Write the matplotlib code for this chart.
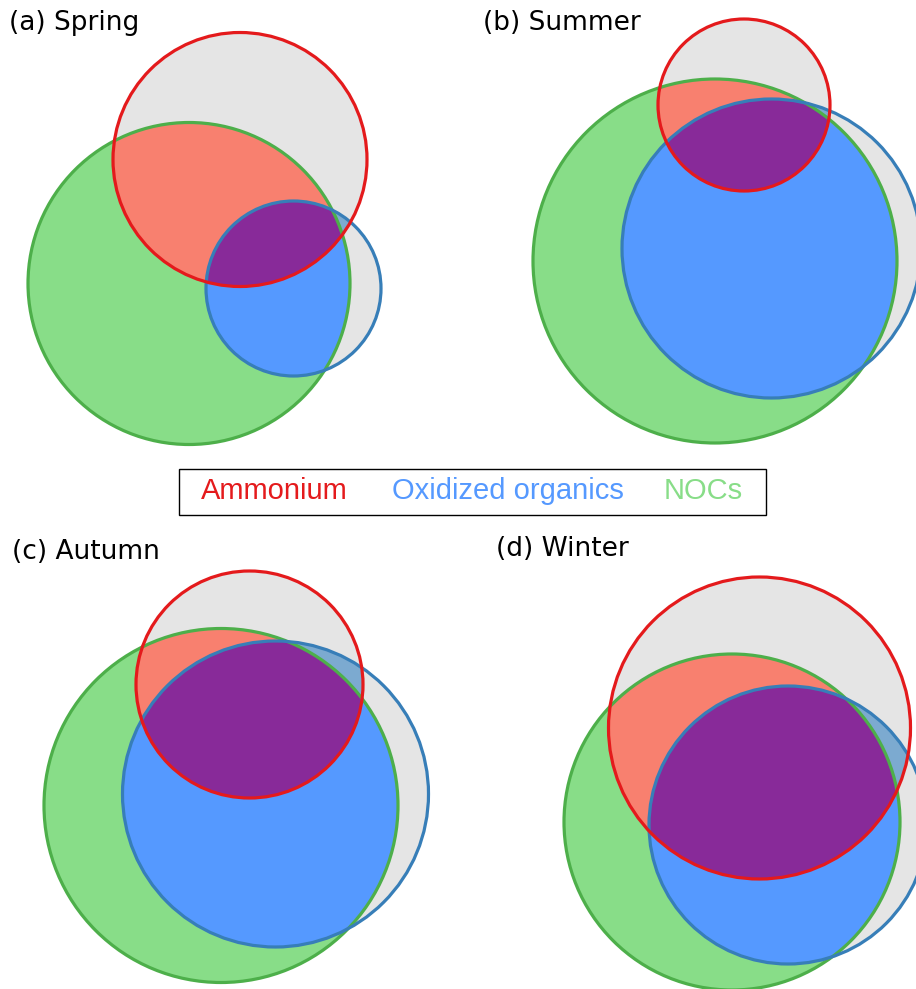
import numpy as np
import matplotlib
matplotlib.use("Agg")
import matplotlib.pyplot as plt
from matplotlib.patches import Circle, Polygon, Rectangle

# ---- data: circle (x, y, r) per season, in figure pixel units ----
panels = ["(a) Spring", "(b) Summer", "(c) Autumn", "(d) Winter"]
label_xy = [(9, 23), (483, 23), (12, 552), (496, 549)]
ammonium = [(240, 159.5, 127), (744, 105, 86), (249.5, 684.5, 113.5), (759.5, 728, 151)]
oxidized = [(293.5, 288.5, 87.5), (771.5, 248.5, 149.5), (275.5, 794, 153), (788, 825, 139)]
nocs = [(189, 283.5, 161), (715, 261, 182), (221, 805.5, 177), (732, 822, 168)]
legend_labels = ["Ammonium", "Oxidized organics", "NOCs"]
legend_x = [201, 392, 664]

# ---- styles ----
C_GRAY = "#e5e5e5"
C_STEEL = "#7caad0"
C_GREEN = "#88dd88"
C_SALMON = "#f8806f"
C_BLUE = "#5599ff"
C_PURPLE = "#882a99"
E_RED = "#e41a1c"
E_BLUE = "#377eb8"
E_GREEN = "#4daf4a"
LW = 2.3

fig = plt.figure(figsize=(9.16, 9.89), dpi=100)
ax = fig.add_axes([0, 0, 1, 1])
ax.set_xlim(0, 916)
ax.set_ylim(989, 0)
ax.set_aspect("equal")
ax.axis("off")


def circ(c, **kw):
    return Circle((c[0], c[1]), c[2], **kw)


def intersect_poly(c1, c2, n=720):
    t = np.linspace(0, 2 * np.pi, n, endpoint=False)
    p1 = np.c_[c1[0] + c1[2] * np.cos(t), c1[1] + c1[2] * np.sin(t)]
    p2 = np.c_[c2[0] + c2[2] * np.cos(t), c2[1] + c2[2] * np.sin(t)]
    in1 = np.hypot(p1[:, 0] - c2[0], p1[:, 1] - c2[1]) <= c2[2]
    in2 = np.hypot(p2[:, 0] - c1[0], p2[:, 1] - c1[1]) <= c1[2]
    pts = np.vstack([p1[in1], p2[in2]])
    cen = pts.mean(axis=0)
    ang = np.arctan2(pts[:, 1] - cen[1], pts[:, 0] - cen[0])
    return pts[np.argsort(ang)]


def clipped(fill_c, clip_patch, color, z):
    ax.add_patch(clip_patch)
    clip_patch.set_visible(False)
    p = circ(fill_c, facecolor=color, edgecolor="none", zorder=z)
    ax.add_patch(p)
    p.set_clip_path(clip_patch)


for i in range(4):
    R, B, G = ammonium[i], oxidized[i], nocs[i]
    ax.add_patch(circ(R, facecolor=C_GRAY, edgecolor="none", zorder=1))
    ax.add_patch(circ(B, facecolor=C_GRAY, edgecolor="none", zorder=1))
    clipped(B, circ(R, transform=ax.transData), C_STEEL, 2)
    ax.add_patch(circ(G, facecolor=C_GREEN, edgecolor="none", zorder=3))
    clipped(R, circ(G, transform=ax.transData), C_SALMON, 4)
    clipped(B, circ(G, transform=ax.transData), C_BLUE, 5)
    poly = Polygon(intersect_poly(R, G), closed=True, transform=ax.transData)
    clipped(B, poly, C_PURPLE, 6)
    ax.add_patch(circ(G, facecolor="none", edgecolor=E_GREEN, lw=LW, zorder=7))
    ax.add_patch(circ(B, facecolor="none", edgecolor=E_BLUE, lw=LW, zorder=8))
    ax.add_patch(circ(R, facecolor="none", edgecolor=E_RED, lw=LW, zorder=9))
    ax.text(label_xy[i][0], label_xy[i][1], panels[i], fontsize=19,
            family="DejaVu Sans", ha="left", va="center", zorder=10)

# legend box
ax.add_patch(Rectangle((179, 469), 587, 46, facecolor="white",
                       edgecolor="black", lw=1.0, zorder=10))
for lab, x, col in zip(legend_labels, legend_x, [E_RED, C_BLUE, C_GREEN]):
    ax.text(x, 491, lab, fontsize=21, family="Liberation Sans", color=col,
            ha="left", va="center", zorder=11)

fig.savefig("out.png", dpi=100)
